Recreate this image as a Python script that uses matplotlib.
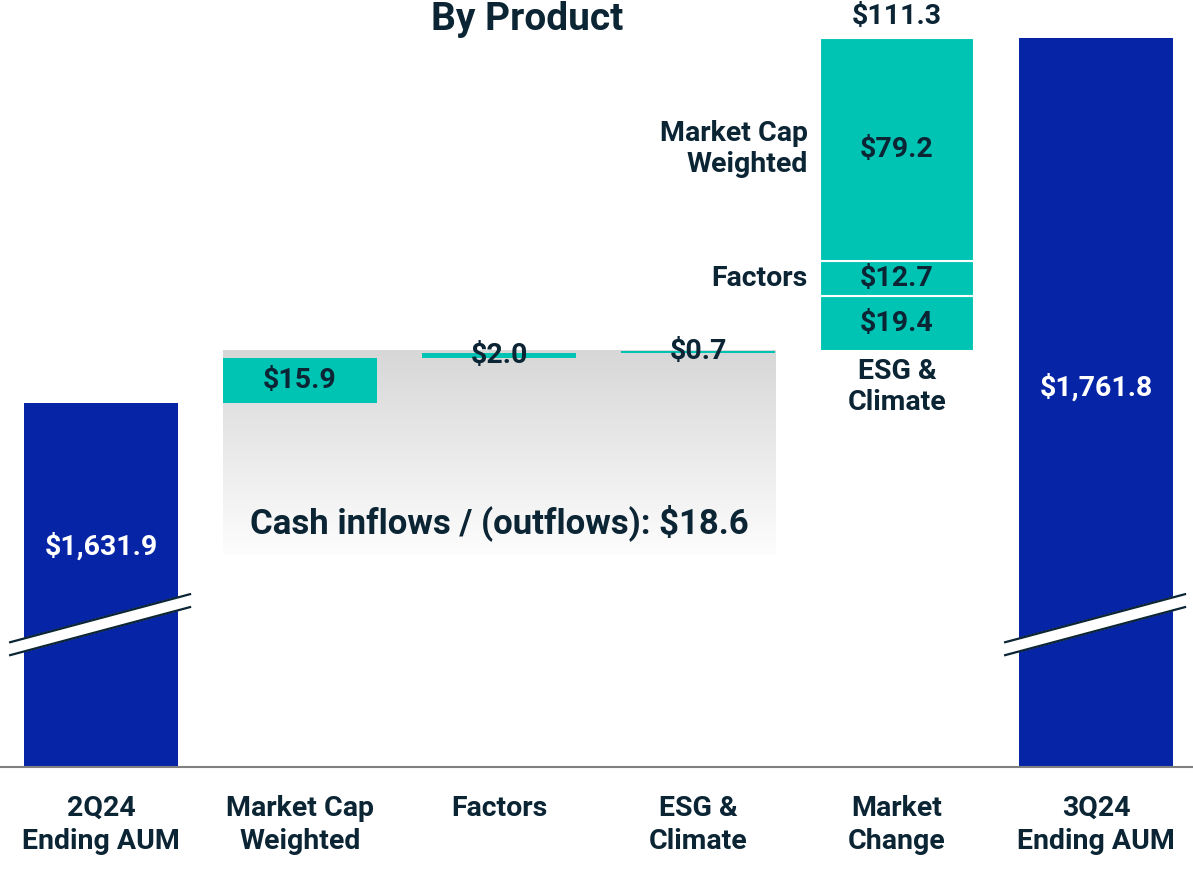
import matplotlib.pyplot as plt
import numpy as np
from matplotlib.colors import LinearSegmentedColormap

plt.rcParams['font.family'] = ['Roboto', 'DejaVu Sans']
plt.rcParams['font.weight'] = 'bold'

# data ($ billions)
categories = ['2Q24\nEnding AUM', 'Market Cap\nWeighted', 'Factors',
              'ESG &\nClimate', 'Market\nChange', '3Q24\nEnding AUM']
start_aum = 1631.9
end_aum = 1761.8
inflow_names = ['Market Cap Weighted', 'Factors', 'ESG & Climate']
inflows = [15.9, 2.0, 0.7]
cash_total = 18.6
market_names = ['ESG &\nClimate', 'Factors', 'Market Cap\nWeighted']   # bottom to top
market_parts = [19.4, 12.7, 79.2]
market_total = 111.3

navy = '#0624A6'
teal = '#00C4B3'
ink = '#0B2535'

fig = plt.figure(figsize=(11.93, 8.82), dpi=100)
ax = fig.add_axes([0, 0.1304, 1, 0.8696])

floor = 1502.4          # broken axis floor
ylim = (floor, 1775.35)
xlim = (-0.508, 5.487)
w = 0.774
x = np.arange(len(categories))

# gradient panel behind the cash flow bars
flow_top = start_aum + sum(inflows)
grad = np.linspace(0, 1, 256).reshape(-1, 1)
cmap = LinearSegmentedColormap.from_list('g', ['#d7d7d7', '#fdfdfd'])
ax.imshow(grad, extent=[1 - w / 2, 3 + w / 2, start_aum - 54, flow_top],
          aspect='auto', cmap=cmap, origin='upper', zorder=0)

# start / end bars
ax.bar([0, 5], [start_aum - floor, end_aum - floor], bottom=floor, width=w,
       color=navy, zorder=2)

# inflow bars
bottoms = start_aum + np.concatenate([[0], np.cumsum(inflows)[:-1]])
ax.bar(x[1:4], inflows, bottom=bottoms, width=w, color=teal, zorder=2)

# market change stacked
mb = flow_top + np.concatenate([[0], np.cumsum(market_parts)[:-1]])
ax.bar([4] * 3, market_parts, bottom=mb, width=w, color=teal,
       edgecolor='white', linewidth=1.5, zorder=2)

fs = 20.5
ax.text(0, 1581.0, f'${start_aum:,.1f}', ha='center', va='center', color='white', fontsize=fs)
ax.text(5, 1637.6, f'${end_aum:,.1f}', ha='center', va='center', color='white', fontsize=fs)
for xi, v, b in zip(x[1:4], inflows, bottoms):
    ax.text(xi, b + v / 2, f'${v:.1f}', ha='center', va='center', color=ink,
            fontsize=fs, zorder=3)

for i, (v, b, name) in enumerate(zip(market_parts, mb, market_names)):
    ax.text(4, b + v / 2, f'${v:.1f}', ha='center', va='center', color=ink, fontsize=fs, zorder=3)
    if i == 0:
        ax.annotate(name, (4, b), xytext=(0, -5), textcoords='offset points',
                    ha='center', va='top', color=ink, fontsize=fs)
    else:
        ax.annotate(name, (4 - w / 2, b + v / 2), xytext=(-9, 0), textcoords='offset points',
                    ha='right', va='center', color=ink, fontsize=fs)
ax.annotate(f'${market_total:.1f}', (4, flow_top + market_total), xytext=(0, 6),
            textcoords='offset points', ha='center', va='bottom', color=ink, fontsize=fs)

ax.text(2, 1589.5, f'Cash inflows / (outflows): ${cash_total:.1f}', ha='center',
        va='center', color=ink, fontsize=25)

# axis break marks
for xc in [0, 5]:
    xs = np.array([-0.457, 0.447]) + xc
    lo = np.array([1542.2, 1559.3])
    hi = lo + 4.6
    ax.fill(np.r_[xs, xs[::-1]], np.r_[lo, hi[::-1]], color='white', zorder=4, clip_on=False)
    ax.plot(xs, lo, color=ink, lw=1.6, zorder=5)
    ax.plot(xs, hi, color=ink, lw=1.6, zorder=5)

ax.set_xlim(*xlim)
ax.set_ylim(*ylim)
ax.set_xticks(x)
ax.set_xticklabels(categories, fontsize=20.5, color=ink, linespacing=1.3)
ax.tick_params(axis='x', length=0, pad=20)
ax.set_yticks([])
for s in ['top', 'left', 'right']:
    ax.spines[s].set_visible(False)
ax.spines['bottom'].set_color('#808080')
ax.spines['bottom'].set_linewidth(1.5)
ax.patch.set_alpha(0)

fig.text(0.442, 1 - 30 / 882, 'By Product', ha='center', va='baseline', color=ink, fontsize=28)

plt.savefig('out.png', dpi=100)
